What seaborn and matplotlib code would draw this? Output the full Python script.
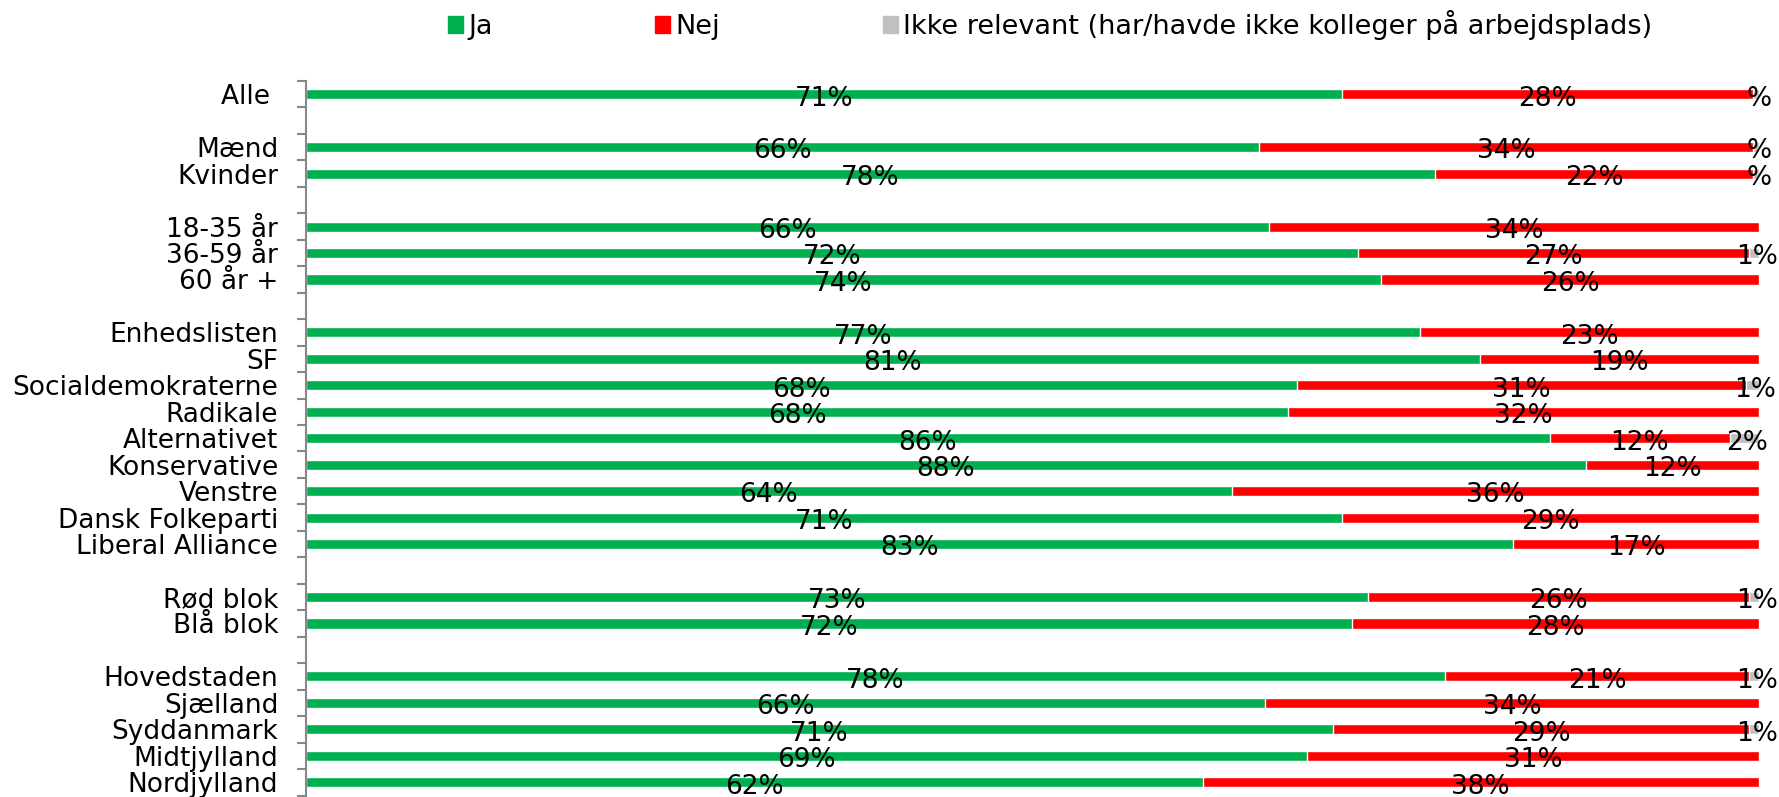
import numpy as np
import pandas as pd
import matplotlib
matplotlib.use("Agg")
import matplotlib.pyplot as plt
import seaborn as sns

# Rækker (tomme strenge = mellemrum mellem grupper)
kategorier = ["Alle ", "", "Mænd", "Kvinder", " ", "18-35 år", "36-59 år", "60 år +", "  ",
              "Enhedslisten", "SF", "Socialdemokraterne", "Radikale", "Alternativet",
              "Konservative", "Venstre", "Dansk Folkeparti", "Liberal Alliance", "   ",
              "Rød blok", "Blå blok", "    ",
              "Hovedstaden", "Sjælland", "Syddanmark", "Midtjylland", "Nordjylland"]

ja = [71.3, 0, 65.6, 77.7, 0, 66.3, 72.4, 74.0, 0,
      76.7, 80.8, 68.2, 67.6, 85.6, 88.1, 63.7, 71.3, 83.1, 0,
      73.1, 72.0, 0,
      78.4, 66.0, 70.7, 68.9, 61.7]
nej = [28.3, 0, 34.0, 21.9, 0, 33.7, 26.9, 26.0, 0,
       23.3, 19.2, 30.9, 32.4, 12.4, 11.9, 36.3, 28.7, 16.9, 0,
       26.2, 28.0, 0,
       20.9, 34.0, 28.6, 31.1, 38.3]
ikke = [0.4, 0, 0.4, 0.4, 0, 0, 0.7, 0, 0,
        0, 0, 0.9, 0, 2.0, 0, 0, 0, 0, 0,
        0.7, 0, 0,
        0.7, 0, 0.7, 0, 0]

serier = ["Ja", "Nej", "Ikke relevant (har/havde ikke kolleger på arbejdsplads)"]
farver = ["#00B050", "#FF0000", "#C0C0C0"]

df = pd.DataFrame({"kategori": kategorier, "ja": ja, "nej": nej, "ikke": ikke})
df["ja_nej"] = df["ja"] + df["nej"]
df["total"] = df["ja_nej"] + df["ikke"]

sns.set_style("white")
plt.rcParams['font.family'] = ['DejaVu Sans']
plt.rcParams['text.color'] = 'black'
plt.rcParams['ytick.color'] = 'black'

fig = plt.figure(figsize=(17.79, 7.97), dpi=100)
ax = fig.add_axes([306 / 1779, 1.5 / 797, (1759 - 306) / 1779, (797 - 81 - 1.5) / 797])

# Stablede søjler tegnes bagfra: total (grå), ja+nej (rød), ja (grøn)
for kol, farve in [("total", farver[2]), ("ja_nej", farver[1]), ("ja", farver[0])]:
  sns.barplot(data=df, x=kol, y="kategori", order=kategorier, color=farve,
              saturation=1, width=0.38, orient="h", ax=ax, errorbar=None)

# Dataetiketter
for i, row in df.iterrows():
  if row["ja"] > 0:
    ax.text(row["ja"] / 2, i + 0.05, f"{row['ja']:.0f}%", ha="center", va="center_baseline", fontsize=19)
  if row["nej"] > 0:
    ax.text(row["ja"] + row["nej"] / 2, i + 0.05, f"{row['nej']:.0f}%", ha="center", va="center_baseline", fontsize=19)
  if row["ikke"] > 0:
    txt = f"{row['ikke']:.0f}%" if row["ikke"] >= 0.5 else "%"
    ax.text(row["ja_nej"] + row["ikke"] / 2 + 0.2, i + 0.05, txt, ha="center", va="center_baseline", fontsize=19)

ax.set_xlim(0, 100)
ax.set_ylim(len(kategorier) - 0.5, -0.5)
ax.set_xlabel("")
ax.set_ylabel("")
ax.xaxis.set_visible(False)
for s in ["top", "right", "bottom"]:
  ax.spines[s].set_visible(False)
ax.spines["left"].set_color("#888888")
ax.spines["left"].set_linewidth(1.5)

ax.set_yticks(np.arange(len(kategorier)))
ax.set_yticklabels(kategorier, fontsize=19)
ax.set_yticks(np.arange(len(kategorier) + 1) - 0.5, minor=True)
ax.tick_params(axis="y", which="major", left=True, length=0, pad=20, labelcolor="black")
ax.tick_params(axis="y", which="minor", left=True, length=6.5, width=1.5, color="#888888")

# Forklaring
handles = [plt.Rectangle((0, 0), 1, 1, color=c) for c in farver]
fig.legend(handles, serier, loc="center", bbox_to_anchor=(1050 / 1779, 1 - 25 / 797),
           ncol=3, frameon=False, fontsize=19.5, handlelength=0.55, handleheight=0.6,
           handletextpad=0.2, columnspacing=6)

plt.savefig("out.png", dpi=100)
